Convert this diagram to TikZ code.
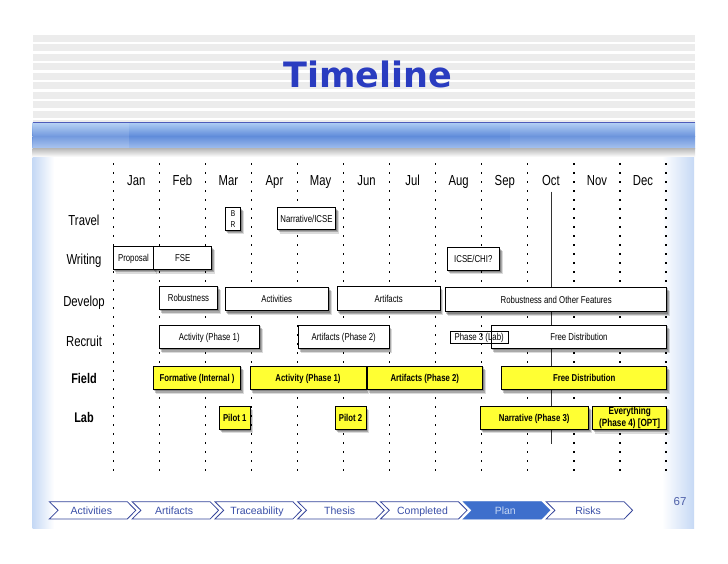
\documentclass[tikz,border=0pt]{standalone}
\usepackage{fontspec}
\setmainfont{Liberation Sans}
\newfontfamily\narrowfont{Liberation Sans}[FakeStretch=0.78]
\newfontfamily\titlefont{DejaVu Sans}
\definecolor{titleblue}{RGB}{42,60,192}
\definecolor{stripegrey}{RGB}{236,236,236}
\definecolor{bandtop}{RGB}{176,206,244}
\definecolor{bandmid}{RGB}{96,140,218}
\definecolor{bandlow}{RGB}{160,190,238}
\definecolor{bandline}{RGB}{78,92,186}
\definecolor{sideblue}{RGB}{198,217,245}
\definecolor{boxyellow}{RGB}{255,255,51}
\definecolor{navline}{RGB}{52,68,154}
\definecolor{navtext}{RGB}{58,79,168}
\definecolor{planblue}{RGB}{62,111,204}
\definecolor{plantext}{RGB}{196,214,244}
\definecolor{pagenum}{RGB}{77,95,168}
\pgfdeclarelayer{backlayer}
\pgfdeclarelayer{shadowlayer}
\pgfsetlayers{backlayer,shadowlayer,main}
\newcommand\boxshadow[1]{%
  \begin{pgfonlayer}{shadowlayer}
    \fill[black, opacity=0.22] ([xshift=1pt,yshift=-1.5pt]#1.south west) rectangle ([xshift=1pt,yshift=-1.5pt]#1.north east);
    \fill[black, opacity=0.22] ([xshift=2pt,yshift=-2.8pt]#1.south west) rectangle ([xshift=2pt,yshift=-2.8pt]#1.north east);
    \fill[black, opacity=0.14] ([xshift=3pt,yshift=-4pt]#1.south west) rectangle ([xshift=3pt,yshift=-4pt]#1.north east);
  \end{pgfonlayer}}
\tikzset{
  box/.style={draw=black, line width=0.7pt, fill=white, inner sep=0pt,
    text height=7.2pt, text depth=0pt,
    font=\narrowfont\fontsize{10}{12}\selectfont},
  ybox/.style={box, fill=boxyellow, font=\narrowfont\bfseries\fontsize{10}{12.3}\selectfont},
  rowlabel/.style={inner sep=0pt, text height=10.4pt, text depth=0pt,
    font=\narrowfont\fontsize{14.5}{17}\selectfont},
  boldlabel/.style={rowlabel, font=\narrowfont\bfseries\fontsize{14}{17}\selectfont},
  monthlabel/.style={inner sep=0pt, text height=10.4pt, text depth=0pt,
    font=\narrowfont\fontsize{14.5}{17}\selectfont},
  gridline/.style={line width=1.2pt, dash pattern=on 2.2pt off 6.8pt},
  chevron/.style={draw=navline, line width=0.8pt, fill=white},
  navlabel/.style={inner sep=0pt, text height=7.5pt, text depth=0pt,
    font=\fontsize{10.5}{12}\selectfont, text=navtext}
}
\begin{document}
\begin{tikzpicture}[x=1pt,y=-1pt]
\useasboundingbox (0,0) rectangle (728,563);
\begin{pgfonlayer}{backlayer}
\fill[white] (0,0) rectangle (728,563);
% title stripes
\fill[stripegrey] (32.7,35) rectangle (695,121.7);
\foreach \k in {0,...,8} \fill[white] (32.7,{41.6+9.5*\k}) rectangle (695,{44.2+9.5*\k});
% blue band
\shade[top color=bandtop, bottom color=bandmid] (32.7,122.3) rectangle (695,136);
\shade[top color=bandmid, bottom color=bandlow] (32.7,136) rectangle (695,148.3);
\fill[white, opacity=0.12] (32.7,122.3) rectangle (129.3,148.3);
\fill[white, opacity=0.08] (510,122.3) rectangle (695,148.3);
\draw[bandline, line width=1.3pt] (32.7,122.3) -- (695,122.3);
\shade[top color=black!28, bottom color=white] (32.7,148.3) rectangle (695,157);
% side gradients
\shade[left color=sideblue, right color=white] (32.7,157) rectangle (54,528.3);
\shade[left color=white, right color=sideblue] (662,157) rectangle (694,528.3);
% grid
\foreach \i in {0,...,12} \draw[gridline] ({113.3+46.06*\i},163) -- ({113.3+46.06*\i},477);
\coordinate (octtop) at (551,191.5);
\coordinate (octbot) at (551,444);
\draw[black!80, line width=0.6pt] (octtop) -- (octbot);
\end{pgfonlayer}
% title
\node[anchor=base, inner sep=0pt, text=titleblue, font=\titlefont\bfseries\fontsize{35}{40}\selectfont] (title) at (367.7,87.3) {Timeline};
% months
\foreach \m [count=\i from 0] in {Jan,Feb,Mar,Apr,May,Jun,Jul,Aug,Sep,Oct,Nov,Dec}
  \node[monthlabel] (m\i) at ({136.3+46.06*\i},180.5) {\m};
% row labels
\node[rowlabel] (travel) at (84,220) {Travel};
\node[rowlabel] (writing) at (84,259.7) {Writing};
\node[rowlabel] (develop) at (84,300.8) {Develop};
\node[rowlabel] (recruit) at (84,340.8) {Recruit};
\node[boldlabel] (field) at (84,378.3) {Field};
\node[boldlabel] (lab) at (84,417.2) {Lab};
% travel
\node[box, minimum width=14.6pt, minimum height=22.3pt, text height=, text depth=, align=center,
  font=\narrowfont\fontsize{8.5}{11}\selectfont] (br) at (233,218.8) {B\\R};
\node[box, minimum width=58.4pt, minimum height=21.6pt] (narr) at (306.5,218.5) {Narrative/ICSE};
% writing
\node[box, minimum width=40.4pt, minimum height=22.6pt] (proposal) at (133.5,258) {Proposal};
\node[box, minimum width=58pt, minimum height=22.6pt] (fse) at (182.7,258) {FSE};
\node[box, minimum width=52pt, minimum height=22.7pt] (icse) at (473.3,258.7) {ICSE/CHI?};
% develop
\node[box, minimum width=58.4pt, minimum height=23.3pt] (rob) at (188.5,297.7) {Robustness};
\node[box, minimum width=103.3pt, minimum height=23.4pt] (act) at (276.7,299) {Activities};
\node[box, minimum width=102.7pt, minimum height=24pt] (art) at (388.7,298.7) {Artifacts};
\node[box, minimum width=221pt, minimum height=24.4pt] (robo) at (556.2,299.5) {Robustness and Other Features};
% recruit
\node[box, minimum width=100pt, minimum height=23.3pt] (ract) at (209.3,336.7) {Activity (Phase 1)};
\node[box, minimum width=90.7pt, minimum height=23.3pt] (rart) at (343.7,336.7) {Artifacts (Phase 2)};
\node[box, minimum width=175.7pt, minimum height=23.3pt] (rfree) at (578.9,336.7) {Free Distribution};
\node[draw=black, line width=0.7pt, inner sep=0pt, minimum width=58.3pt, minimum height=12.3pt,
  text height=7.2pt, text depth=0pt, font=\narrowfont\fontsize{10}{12}\selectfont] (rlab) at (479.2,337.2) {Phase 3 (Lab)};
% field
\node[ybox, minimum width=87.4pt, minimum height=23.3pt] (fform) at (197,377.7) {Formative (Internal )};
\node[ybox, minimum width=116pt, minimum height=23.3pt] (fact) at (308,377.7) {Activity (Phase 1)};
\node[ybox, minimum width=115pt, minimum height=23.3pt] (fart) at (424.8,377.7) {Artifacts (Phase 2)};
\node[ybox, minimum width=165pt, minimum height=23.3pt] (ffree) at (584.2,377.7) {Free Distribution};
% lab
\node[ybox, minimum width=30.7pt, minimum height=22.7pt] (pilot1) at (234.7,417.7) {Pilot 1};
\node[ybox, minimum width=31pt, minimum height=22.7pt] (pilot2) at (350.5,417.7) {Pilot 2};
\node[ybox, minimum width=108.3pt, minimum height=22.7pt] (lnarr) at (534.2,417.7) {Narrative (Phase 3)};
\node[ybox, minimum width=74pt, minimum height=22.7pt, text height=, text depth=, align=center,
  font=\narrowfont\bfseries\fontsize{10.5}{12.3}\selectfont] (every) at (629.7,417.9) {Everything\\(Phase 4) [OPT]};
% shadows
\foreach \n in {br,narr,proposal,fse,icse,rob,act,art,robo,ract,rart,rfree,fform,fact,fart,ffree,pilot1,pilot2,lnarr,every}
  {\boxshadow{\n}}
% navigation bar
\foreach \lab [count=\i from 0] in {Activities,Artifacts,Traceability,Thesis,Completed,Plan,Risks} {
  \pgfmathsetmacro{\xo}{49.3+82.8*\i}
  \ifnum\i=5
    \draw[draw=planblue, line width=0.8pt, fill=planblue] (\xo,501.7) -- ({\xo+78},501.7) -- ({\xo+86.5},510.3) -- ({\xo+78},519) -- (\xo,519) -- ({\xo+8.8},510.3) -- cycle;
    \node[navlabel, text=plantext] (nav\i) at ({\xo+42},510.3) {\lab};
  \else
    \draw[chevron] (\xo,501.7) -- ({\xo+78},501.7) -- ({\xo+86.5},510.3) -- ({\xo+78},519) -- (\xo,519) -- ({\xo+8.8},510.3) -- cycle;
    \node[navlabel] (nav\i) at ({\xo+42},510.3) {\lab};
  \fi
}
\node[inner sep=0pt, text=pagenum, font=\fontsize{11.5}{13}\selectfont] (page) at (680,502) {67};
\end{tikzpicture}
\end{document}
